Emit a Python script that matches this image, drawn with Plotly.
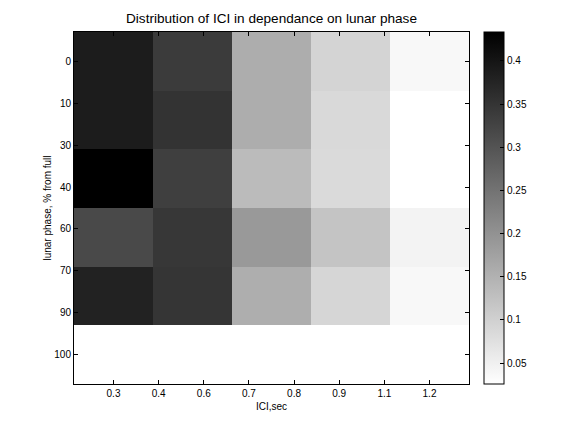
import numpy as np
import plotly.graph_objects as go

# Data (rows = lunar phase bins, columns = ICI bins)
x_labels = ["0.3", "0.4", "0.6", "0.7", "0.8", "0.9", "1.1", "1.2"]
y_labels = ["0", "10", "30", "40", "60", "70", "90", "100"]
col_idx = [1, 2, 3, 4, 5]
row_idx = [1, 2, 3, 4, 5, 6]
row1 = [0.389, 0.339, 0.157, 0.095, 0.037]
row2 = [0.389, 0.352, 0.157, 0.087, 0.026]
row3 = [0.433, 0.333, 0.135, 0.085, 0.026]
row4 = [0.317, 0.346, 0.189, 0.120, 0.045]
row5 = [0.379, 0.349, 0.155, 0.091, 0.037]
row6 = [None, None, None, None, None]
z = [row1, row2, row3, row4, row5, row6]
zmin, zmax = 0.0258, 0.4335
cbar_ticks = [0.05, 0.1, 0.15, 0.2, 0.25, 0.3, 0.35, 0.4]

font = "Liberation Sans, Arial, sans-serif"

fig = go.Figure(go.Heatmap(
    x=col_idx, y=row_idx, z=z,
    zmin=zmin, zmax=zmax,
    colorscale=[[0, "#ffffff"], [1, "#000000"]],
    hoverongaps=False,
    colorbar=dict(
        x=(484 - 74) / 395, xanchor="left", xref="paper",
        y=0.5, yanchor="middle", len=1.0, lenmode="fraction",
        xpad=0, ypad=0,
        thickness=20, thicknessmode="pixels",
        outlinecolor="black", outlinewidth=1,
        tickvals=cbar_ticks, ticktext=[f"{v:g}" for v in cbar_ticks],
        ticks="inside", ticklen=4, tickcolor="black",
        tickfont=dict(family=font, size=10, color="black"),
    ),
))

fig.update_xaxes(
    range=[0.5, 5.5], automargin=False,
    tickvals=list(np.linspace(1, 5, 8)), ticktext=x_labels,
    ticks="inside", ticklen=4, tickcolor="black",
    showline=True, linecolor="black", linewidth=1, mirror="ticks",
    showgrid=False, zeroline=False,
    tickfont=dict(family=font, size=10, color="black"),
    title=dict(text="ICI,sec", font=dict(family=font, size=10, color="black"), standoff=4),
)
fig.update_yaxes(
    range=[6.5, 0.5], automargin=False,
    tickvals=list(np.linspace(1, 6, 8)), ticktext=y_labels,
    ticks="inside", ticklen=4, tickcolor="black",
    showline=True, linecolor="black", linewidth=1, mirror="ticks",
    showgrid=False, zeroline=False,
    tickfont=dict(family=font, size=10, color="black"),
    title=dict(text="lunar phase, % from full", font=dict(family=font, size=10, color="black"), standoff=0),
)

fig.update_layout(
    width=576, height=432,
    margin=dict(l=74, r=107, t=32, b=48, autoexpand=False),
    paper_bgcolor="white", plot_bgcolor="white",
    title=dict(text="Distribution of ICI in dependance on lunar phase",
               x=(74 + 469) / 2 / 576, xanchor="center", y=1 - 18 / 432, yanchor="middle",
               font=dict(family=font, size=13.6, color="black")),
)

fig.write_html("out.html", config={"displayModeBar": False},
               post_script="document.body.style.margin='0px';document.body.style.padding='0px';")
